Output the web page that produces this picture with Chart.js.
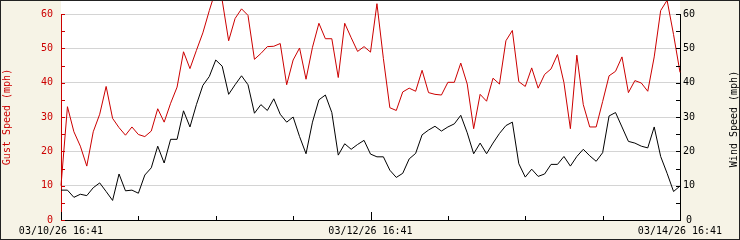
<!DOCTYPE html>
<html>
<head>
<meta charset="utf-8">
<script src="https://cdn.jsdelivr.net/npm/chart.js@4.4.1/dist/chart.umd.min.js"></script>
<style>
  html, body { margin: 0; padding: 0; background: #f6f3e6; }
  #wrap { width: 740px; height: 240px; }
</style>
</head>
<body>
<div id="wrap"><canvas id="chart" width="740" height="240"></canvas></div>
<script>
// hourly readings, 03/10/26 16:41 -> 03/14/26 16:41
const gustSpeed = [
  10, 33, 25.7, 21.5, 15.7, 25.7, 30.8, 38.9, 29.6, 26.9,
  24.7, 27.1, 24.9, 24.3, 25.9, 32.4, 28.5, 34, 38.7, 49,
  44.1, 49.4, 54.5, 61, 67, 64, 52.2, 58.7, 61.5, 59.6,
  46.8, 48.5, 50.5, 50.6, 51.4, 39.4, 46.6, 50.1, 41, 50.3,
  57.3, 52.8, 52.8, 41.5, 57.3, 53.1, 49.1, 50.5, 48.9, 63,
  47, 32.7, 31.9, 37.3, 38.4, 37.5, 43.6, 37.1, 36.6, 36.4,
  40.1, 40.1, 45.7, 39.6, 26.6, 36.6, 34.6, 41.3, 39.6, 52.2,
  55.2, 40.3, 38.9, 44.3, 38.4, 42.4, 44, 48.2, 40, 26.6,
  48, 33.6, 27.1, 27.1, 34.5, 42, 43.3, 47.5, 37.1, 40.6,
  39.9, 37.5, 47.5, 61, 64, 54, 43
];
const windSpeed = [
  8.7, 8.7, 6.6, 7.5, 7.1, 9.4, 10.8, 8.3, 5.7, 13.4,
  8.5, 8.7, 7.8, 13.1, 15.2, 21.5, 16.6, 23.5, 23.5, 31.8,
  27.1, 33.6, 39.2, 41.8, 46.6, 44.8, 36.6, 39.4, 42, 39.4,
  31.1, 33.6, 31.9, 35.3, 30.8, 28.5, 30, 24.3, 19.3, 28.5,
  35, 36.4, 31.3, 18.9, 22.2, 20.6, 22, 23.2, 19.2, 18.4,
  18.4, 14.5, 12.4, 13.6, 17.8, 19.4, 24.8, 26.2, 27.3, 25.9,
  27.1, 28, 30.5, 25.4, 19.3, 22.4, 19.3, 22.4, 25.2, 27.5,
  28.5, 16.4, 12.5, 14.8, 12.7, 13.4, 16.2, 16.2, 18.5, 15.7,
  18.5, 20.6, 18.7, 17.1, 19.6, 30.3, 31.3, 27.1, 22.9, 22.4,
  21.5, 21, 27.1, 18.5, 13.6, 8.3, 9.9
];
const dateLabels = ['03/10/26 16:41', '03/12/26 16:41', '03/14/26 16:41'];

const RED = '#cc0000';
const GRID = '#d4d4d4';
const BG = '#f6f3e6';
const font = { family: 'DejaVu Sans Mono', size: 10 };

const toPoints = arr => arr.map((v, i) => ({ x: i, y: v }));

const frame = {
  id: 'frame',
  beforeDraw(chart) {
    const { ctx, chartArea: a } = chart;
    ctx.save();
    ctx.fillStyle = BG;
    ctx.fillRect(0, 0, chart.width, chart.height);
    ctx.fillStyle = '#fff';
    ctx.fillRect(a.left, 0, a.right - a.left, a.bottom);
    ctx.restore();
  },
  afterDraw(chart) {
    const { ctx, chartArea: a, scales } = chart;
    ctx.save();
    ctx.lineWidth = 1;
    // tick marks drawn inside the plot
    ctx.strokeStyle = RED;
    ctx.beginPath();
    scales.y.ticks.forEach(t => {
      const y = Math.round(scales.y.getPixelForValue(t.value)) + 0.5;
      ctx.moveTo(a.left, y); ctx.lineTo(a.left + 4, y);
    });
    ctx.stroke();
    ctx.strokeStyle = '#000';
    ctx.beginPath();
    scales.y1.ticks.forEach(t => {
      const y = Math.round(scales.y1.getPixelForValue(t.value)) + 0.5;
      ctx.moveTo(a.right - 4, y); ctx.lineTo(a.right, y);
    });
    scales.x.ticks.forEach(t => {
      const x = Math.round(scales.x.getPixelForValue(t.value)) + 0.5;
      const len = t.value % 48 === 0 ? 8 : 4;
      ctx.moveTo(x, a.bottom); ctx.lineTo(x, a.bottom - len);
    });
    ctx.stroke();
    // right axis title reads bottom to top like the left one
    ctx.translate(734, (a.top + a.bottom) / 2 + 2);
    ctx.rotate(-Math.PI / 2);
    ctx.font = '10px "DejaVu Sans Mono"';
    ctx.textAlign = 'center';
    ctx.textBaseline = 'middle';
    ctx.fillStyle = '#000';
    ctx.fillText('Wind Speed (mph)', 0, 0);
    ctx.restore();
    ctx.save();
    ctx.strokeStyle = '#222';
    ctx.strokeRect(0.5, 0.5, chart.width - 1, chart.height - 1);
    ctx.restore();
  }
};

new Chart(document.getElementById('chart'), {
  type: 'line',
  data: {
    datasets: [
      {
        label: 'Wind Speed',
        data: toPoints(windSpeed),
        yAxisID: 'y1',
        borderColor: '#000',
        borderWidth: 1,
        pointRadius: 0,
        tension: 0,
        clip: false
      },
      {
        label: 'Gust Speed',
        data: toPoints(gustSpeed),
        yAxisID: 'y',
        borderColor: RED,
        borderWidth: 1,
        pointRadius: 0,
        tension: 0,
        clip: false
      }
    ]
  },
  options: {
    responsive: false,
    devicePixelRatio: 1,
    animation: false,
    layout: { padding: { top: 5, left: 0, right: 0, bottom: 0 } },
    plugins: { legend: { display: false }, tooltip: { enabled: false } },
    scales: {
      x: {
        type: 'linear',
        min: 0,
        max: 96,
        afterFit: s => { s.height = 20; },
        grid: { drawOnChartArea: false, drawTicks: false },
        border: { color: '#000', width: 1 },
        ticks: {
          stepSize: 12,
          autoSkip: false,
          maxRotation: 0,
          padding: 5,
          color: '#000',
          font: font,
          callback: v => (v % 48 === 0 ? dateLabels[v / 48] : '')
        }
      },
      y: {
        position: 'left',
        min: 0,
        max: 60,
        afterFit: s => { s.width = 61; },
        grid: {
          drawTicks: false,
          color: c => (c.tick.value % 10 === 0 && c.tick.value > 0 ? GRID : 'rgba(0,0,0,0)')
        },
        border: { color: RED, width: 1 },
        title: { display: true, text: 'Gust Speed (mph)', color: RED, font: font, padding: { top: 1, bottom: 0 } },
        ticks: {
          stepSize: 5,
          padding: 8,
          color: RED,
          font: font,
          callback: v => (v % 10 === 0 ? v : '')
        }
      },
      y1: {
        position: 'right',
        min: 0,
        max: 60,
        afterFit: s => { s.width = 60; },
        grid: { drawOnChartArea: false, drawTicks: false },
        border: { color: '#000', width: 1 },
        ticks: {
          stepSize: 5,
          padding: 3,
          crossAlign: 'center',
          color: '#000',
          font: font,
          callback: v => (v % 10 === 0 ? v : '')
        }
      }
    }
  },
  plugins: [frame]
});
</script>
</body>
</html>
